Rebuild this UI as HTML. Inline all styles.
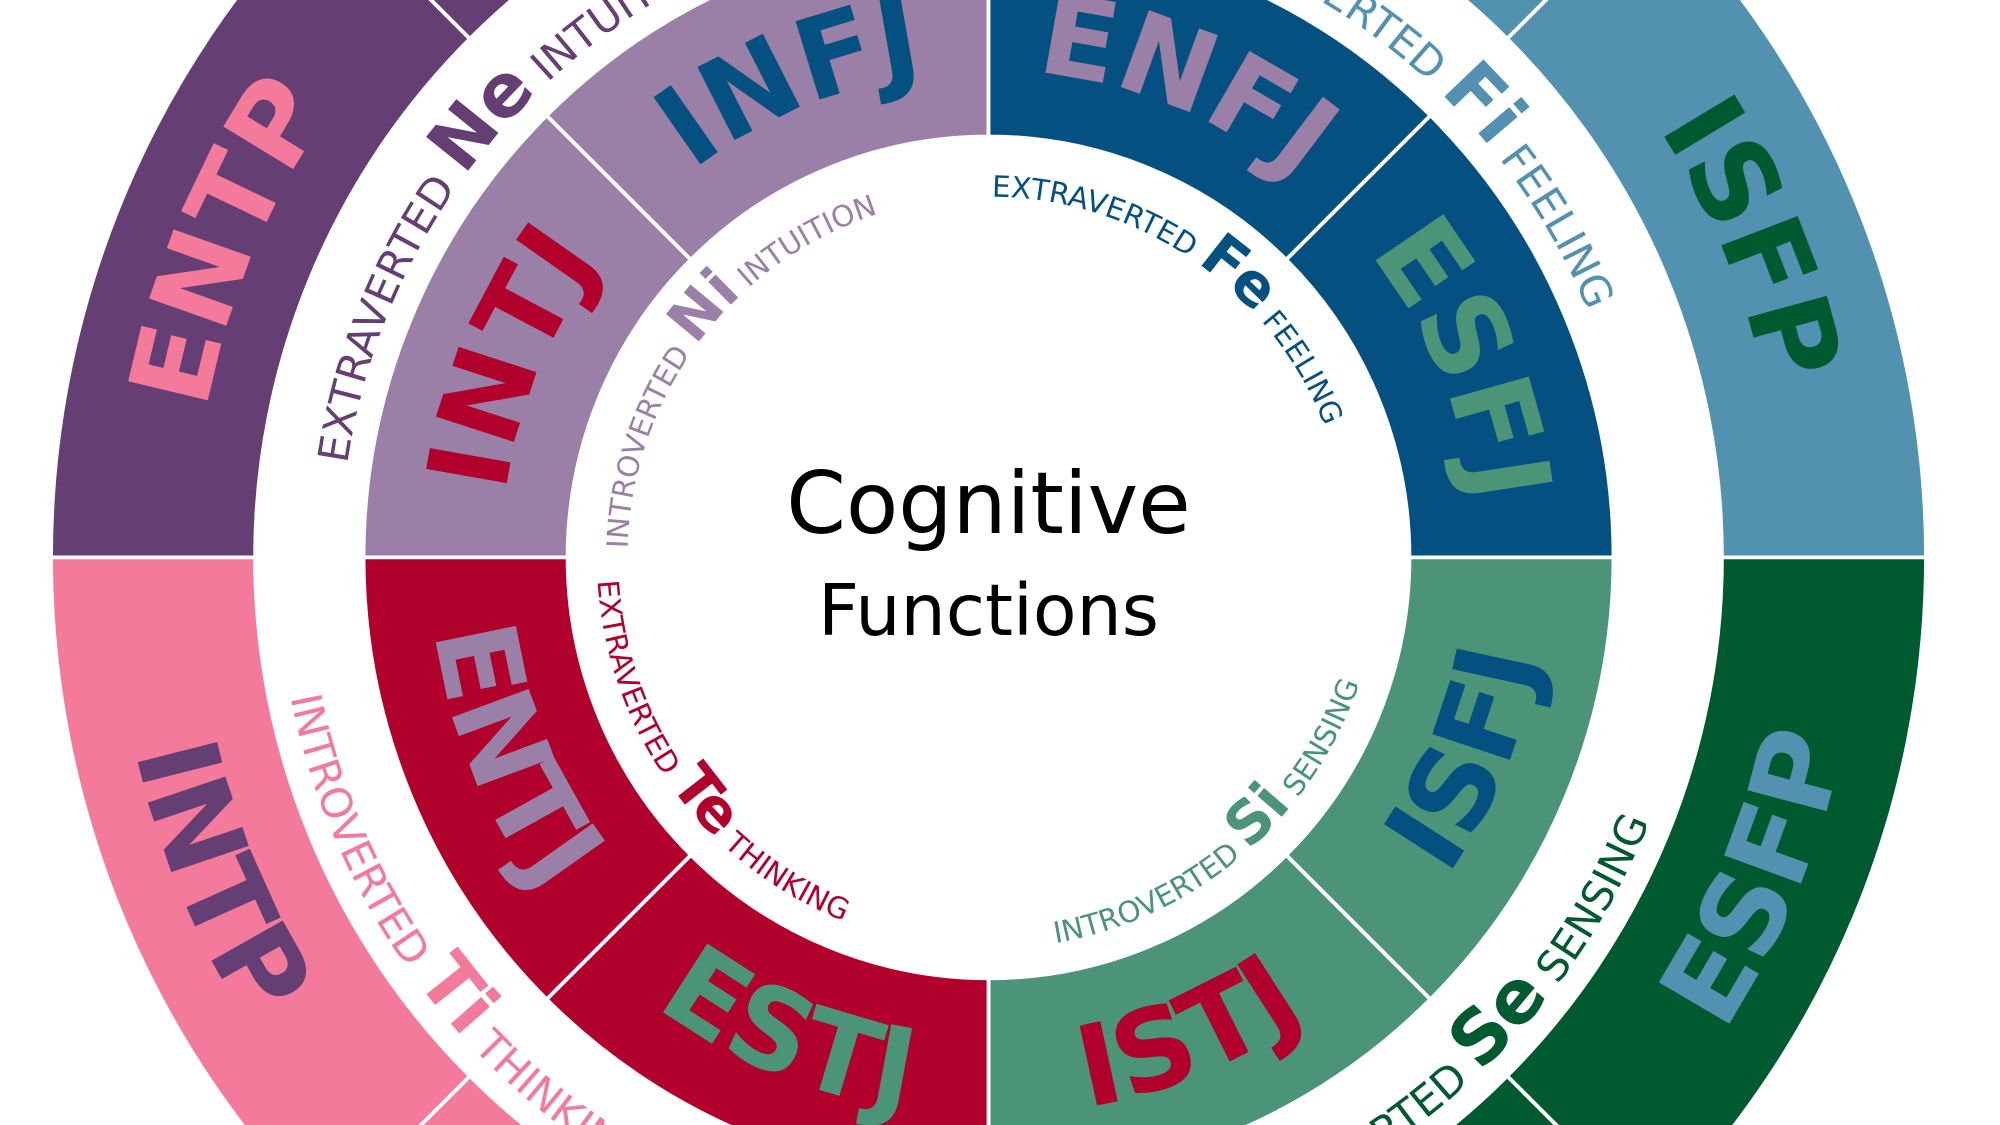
<!DOCTYPE html>
<html><head><meta charset="utf-8"><style>
html,body{margin:0;padding:0;background:#fff;width:2000px;height:1125px;overflow:hidden}
svg{display:block;overflow:hidden}
text{font-family:"DejaVu Sans","Liberation Sans",sans-serif}
.t{font-weight:bold;font-size:88px;letter-spacing:0px}
.s{font-size:33px}
.si{font-size:23px}
.b{font-weight:bold;font-size:58px}
.bi{font-weight:bold;font-size:46px}
</style></head><body>
<svg width="2000" height="1125" viewBox="0 0 1568 882" xmlns="http://www.w3.org/2000/svg">
<defs>
<path id="uO" d="M267 437 A508 508 0 0 1 1283 437"/>
<path id="lO" d="M217 437 A558 558 0 0 0 1333 437"/>
<path id="uI" d="M492 437 A283 283 0 0 1 1058 437"/>
<path id="lI" d="M468 437 A307 307 0 0 0 1082 437"/>
<path id="uR" d="M393 437 A382 382 0 0 1 1157 437"/>
<path id="lR" d="M337 437 A438 438 0 0 0 1213 437"/>
<path id="uQ" d="M151 437 A624 624 0 0 1 1399 437"/>
<path id="lQ" d="M89 437 A686 686 0 0 0 1461 437"/>
<clipPath id="cp"><rect x="0" y="0" width="1568" height="882"/></clipPath>
</defs>
<g clip-path="url(#cp)">
<g stroke="#fff" stroke-width="3">
<path fill="#653f74" d="M40 437 A735 735 0 0 1 255.27 -82.73 L368.42 30.42 A575 575 0 0 0 200 437 Z"/>
<path fill="#653f74" d="M255.27 -82.73 A735 735 0 0 1 775 -298 L775 -138 A575 575 0 0 0 368.42 30.42 Z"/>
<path fill="#5391b0" d="M775 -298 A735 735 0 0 1 1294.73 -82.73 L1181.58 30.42 A575 575 0 0 0 775 -138 Z"/>
<path fill="#5391b0" d="M1294.73 -82.73 A735 735 0 0 1 1510 437 L1350 437 A575 575 0 0 0 1181.58 30.42 Z"/>
<path fill="#005a30" d="M1510 437 A735 735 0 0 1 1294.73 956.73 L1181.58 843.58 A575 575 0 0 0 1350 437 Z"/>
<path fill="#005a30" d="M1294.73 956.73 A735 735 0 0 1 775 1172 L775 1012 A575 575 0 0 0 1181.58 843.58 Z"/>
<path fill="#f47a9b" d="M775 1172 A735 735 0 0 1 255.27 956.73 L368.42 843.58 A575 575 0 0 0 775 1012 Z"/>
<path fill="#f47a9b" d="M255.27 956.73 A735 735 0 0 1 40 437 L200 437 A575 575 0 0 0 368.42 843.58 Z"/>
<path fill="#9a7fa6" d="M285 437 A490 490 0 0 1 428.52 90.52 L541.65 203.65 A330 330 0 0 0 445 437 Z"/>
<path fill="#9a7fa6" d="M428.52 90.52 A490 490 0 0 1 775 -53 L775 107 A330 330 0 0 0 541.65 203.65 Z"/>
<path fill="#045181" d="M775 -53 A490 490 0 0 1 1121.48 90.52 L1008.35 203.65 A330 330 0 0 0 775 107 Z"/>
<path fill="#045181" d="M1121.48 90.52 A490 490 0 0 1 1265 437 L1105 437 A330 330 0 0 0 1008.35 203.65 Z"/>
<path fill="#4b9478" d="M1265 437 A490 490 0 0 1 1121.48 783.48 L1008.35 670.35 A330 330 0 0 0 1105 437 Z"/>
<path fill="#4b9478" d="M1121.48 783.48 A490 490 0 0 1 775 927 L775 767 A330 330 0 0 0 1008.35 670.35 Z"/>
<path fill="#b0002b" d="M775 927 A490 490 0 0 1 428.52 783.48 L541.65 670.35 A330 330 0 0 0 775 767 Z"/>
<path fill="#b0002b" d="M428.52 783.48 A490 490 0 0 1 285 437 L445 437 A330 330 0 0 0 541.65 670.35 Z"/>
</g>

<text class="t" fill="#b0002b"><textPath href="#uR" startOffset="12.5%" text-anchor="middle">INTJ</textPath></text>
<text class="t" fill="#045181"><textPath href="#uR" startOffset="37.5%" text-anchor="middle">INFJ</textPath></text>
<text class="t" fill="#9a7fa6"><textPath href="#uR" startOffset="62.5%" text-anchor="middle">ENFJ</textPath></text>
<text class="t" fill="#4b9478"><textPath href="#uR" startOffset="87.5%" text-anchor="middle">ESFJ</textPath></text>
<text class="t" fill="#9a7fa6"><textPath href="#lR" startOffset="12.5%" text-anchor="middle">ENTJ</textPath></text>
<text class="t" fill="#4b9478"><textPath href="#lR" startOffset="37.5%" text-anchor="middle">ESTJ</textPath></text>
<text class="t" fill="#b0002b"><textPath href="#lR" startOffset="62.5%" text-anchor="middle">ISTJ</textPath></text>
<text class="t" fill="#045181"><textPath href="#lR" startOffset="87.5%" text-anchor="middle">ISFJ</textPath></text>
<text class="t" fill="#f47a9b"><textPath href="#uQ" startOffset="12.5%" text-anchor="middle">ENTP</textPath></text>
<text class="t" fill="#f47a9b"><textPath href="#uQ" startOffset="37.5%" text-anchor="middle">INFP</textPath></text>
<text class="t" fill="#005a30"><textPath href="#uQ" startOffset="62.5%" text-anchor="middle">ENFP</textPath></text>
<text class="t" fill="#005a30"><textPath href="#uQ" startOffset="87.5%" text-anchor="middle">ISFP</textPath></text>
<text class="t" fill="#653f74"><textPath href="#lQ" startOffset="12.5%" text-anchor="middle">INTP</textPath></text>
<text class="t" fill="#653f74"><textPath href="#lQ" startOffset="37.5%" text-anchor="middle">ISTP</textPath></text>
<text class="t" fill="#5391b0"><textPath href="#lQ" startOffset="62.5%" text-anchor="middle">ESTP</textPath></text>
<text class="t" fill="#5391b0"><textPath href="#lQ" startOffset="87.5%" text-anchor="middle">ESFP</textPath></text>

<text class="s" fill="#653f74"><textPath href="#uO" startOffset="4.6%">EXTRAVERTED <tspan class="b">Ne</tspan> INTUITION</textPath></text>
<text class="s" fill="#5391b0"><textPath href="#uO" startOffset="87.6%" text-anchor="end">INTROVERTED <tspan class="b">Fi</tspan> FEELING</textPath></text>
<text class="s" fill="#f47a9b"><textPath href="#lO" startOffset="6.3%">INTROVERTED <tspan class="b">Ti</tspan> THINKING</textPath></text>
<text class="s" fill="#005a30"><textPath href="#lO" startOffset="87.9%" text-anchor="end">EXTRAVERTED <tspan class="b">Se</tspan> SENSING</textPath></text>

<text class="si" fill="#9a7fa6"><textPath href="#uI" startOffset="0.8%">INTROVERTED <tspan class="bi">Ni</tspan> INTUITION</textPath></text>
<text class="si" fill="#045181"><textPath href="#uI" startOffset="50.3%">EXTRAVERTED <tspan class="bi">Fe</tspan> FEELING</textPath></text>
<text class="si" fill="#b0002b"><textPath href="#lI" startOffset="1.9%">EXTRAVERTED <tspan class="bi">Te</tspan> THINKING</textPath></text>
<text class="si" fill="#4b9478"><textPath href="#lI" startOffset="89.6%" text-anchor="end">INTROVERTED <tspan class="bi">Si</tspan> SENSING</textPath></text>

<text x="775" y="418" text-anchor="middle" font-size="67" fill="#000">Cognitive</text>
<text x="775" y="498" text-anchor="middle" font-size="56" fill="#000">Functions</text>
</g>
</svg>
</body></html>
